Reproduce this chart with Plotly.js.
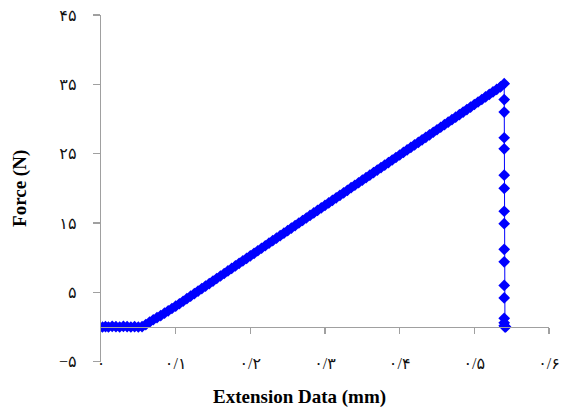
<!DOCTYPE html>
<html>
<head>
<meta charset="utf-8">
<script src="https://cdn.plot.ly/plotly-3.0.1.min.js"></script>
<style>html,body{margin:0;padding:0;background:#fff;}#chart{width:567px;height:410px;}</style>
</head>
<body>
<div id="chart"></div>
<script>
// Extension (mm)
const extension = [
  0.002, 0.006, 0.010, 0.015, 0.020, 0.025, 0.030, 0.035, 0.040, 0.045, 0.050, 0.055,
  0.060, 0.065, 0.070, 0.075, 0.080, 0.085, 0.090, 0.095,
  0.100, 0.105, 0.110, 0.115, 0.120, 0.125, 0.130, 0.135, 0.140, 0.145,
  0.150, 0.155, 0.160, 0.165, 0.170, 0.175, 0.180, 0.185, 0.190, 0.195,
  0.200, 0.205, 0.210, 0.215, 0.220, 0.225, 0.230, 0.235, 0.240, 0.245,
  0.250, 0.255, 0.260, 0.265, 0.270, 0.275, 0.280, 0.285, 0.290, 0.295,
  0.300, 0.305, 0.310, 0.315, 0.320, 0.325, 0.330, 0.335, 0.340, 0.345,
  0.350, 0.355, 0.360, 0.365, 0.370, 0.375, 0.380, 0.385, 0.390, 0.395,
  0.400, 0.405, 0.410, 0.415, 0.420, 0.425, 0.430, 0.435, 0.440, 0.445,
  0.450, 0.455, 0.460, 0.465, 0.470, 0.475, 0.480, 0.485, 0.490, 0.495,
  0.500, 0.505, 0.510, 0.515, 0.520, 0.525, 0.530, 0.535, 0.540,
  0.540, 0.540, 0.540, 0.540, 0.540, 0.540, 0.540, 0.540, 0.540, 0.540,
  0.540, 0.540, 0.540, 0.540, 0.540, 0.541, 0.541, 0.542
];
// Force (N)
const force = [
  0.00, 0.05, 0.00, 0.10, 0.05, 0.00, 0.10, 0.05, 0.00, 0.05, 0.00, 0.05,
  0.35, 0.70, 1.05, 1.35, 1.65, 2.00, 2.33, 2.67,
  3.00, 3.36, 3.72, 4.09, 4.45, 4.81, 5.18, 5.54, 5.90, 6.27,
  6.63, 7.00, 7.36, 7.72, 8.09, 8.45, 8.81, 9.18, 9.54, 9.90,
  10.27, 10.63, 11.00, 11.36, 11.72, 12.09, 12.45, 12.81, 13.18, 13.54,
  13.90, 14.27, 14.63, 15.00, 15.36, 15.72, 16.09, 16.45, 16.81, 17.18,
  17.54, 17.90, 18.27, 18.63, 19.00, 19.36, 19.72, 20.09, 20.45, 20.81,
  21.18, 21.54, 21.90, 22.27, 22.63, 23.00, 23.36, 23.72, 24.09, 24.45,
  24.81, 25.18, 25.54, 25.90, 26.27, 26.63, 27.00, 27.36, 27.72, 28.09,
  28.45, 28.81, 29.18, 29.54, 29.90, 30.27, 30.63, 31.00, 31.36, 31.72,
  32.09, 32.45, 32.81, 33.18, 33.54, 33.90, 34.27, 34.63, 35.10,
  32.80, 31.00, 27.30, 25.70, 21.90, 20.00, 16.70, 14.90, 11.20, 9.40,
  6.00, 4.20, 1.25, 0.60, 0.20, 0.10, 0.00, 0.00
];

const xTickVals = [0, 0.1, 0.2, 0.3, 0.4, 0.5, 0.6];
const xTickText = ["۰", "۰/۱", "۰/۲", "۰/۳", "۰/۴", "۰/۵", "۰/۶"];
const yTickVals = [-5, 5, 15, 25, 35, 45];
const yTickText = ["\u2212۵", "۵", "۱۵", "۲۵", "۳۵", "۴۵"];

const serif = "'Times New Roman', 'Liberation Serif', 'DejaVu Sans', serif";
const axisGray = "#a0a0a0";

const traces = [
  {
    x: extension, y: force, type: "scatter", mode: "lines+markers",
    line: {color: "#0000ff", width: 1},
    marker: {symbol: "diamond", size: 9, color: "#0000ff", line: {width: 0}},
    showlegend: false, hoverinfo: "x+y"
  },
  {
    x: [], y: [], xaxis: "x2", yaxis: "y", type: "scatter", mode: "markers",
    showlegend: false, hoverinfo: "skip"
  }
];

const layout = {
  width: 567, height: 410,
  margin: {l: 101, r: 18, t: 15, b: 40, pad: 0},
  paper_bgcolor: "#ffffff", plot_bgcolor: "#ffffff",
  font: {family: serif, size: 16, color: "#000000"},
  showlegend: false,
  xaxis: {
    range: [0, 0.6], anchor: "free", position: 0.05,
    showline: false, showgrid: false, zeroline: false,
    ticks: "", tickmode: "array", tickvals: xTickVals, ticktext: xTickText,
    tickfont: {family: serif, size: 16, color: "#111111"}
  },
  xaxis2: {
    range: [0, 0.6], overlaying: "x", anchor: "free", position: 0.1211,
    showline: true, linecolor: axisGray, linewidth: 1.3,
    ticks: "outside", ticklen: 6, tickwidth: 1.3, tickcolor: axisGray,
    tickmode: "array", tickvals: [0.1, 0.2, 0.3, 0.4, 0.5, 0.6],
    showticklabels: false, showgrid: false, zeroline: false
  },
  yaxis: {
    range: [-5, 45], domain: [0.0234, 1], anchor: "x",
    showline: true, linecolor: axisGray, linewidth: 1.3,
    ticks: "outside", ticklen: 7, tickwidth: 1.3, tickcolor: axisGray,
    tickmode: "array", tickvals: yTickVals, ticktext: yTickText,
    ticklabelstandoff: 13,
    tickfont: {family: serif, size: 16, color: "#111111"},
    showgrid: false, zeroline: false,
    title: {text: "<b>Force (N)</b>", font: {family: serif, size: 19, color: "#000000"}, standoff: 27}
  },
  annotations: [
    {
      text: "<b>Extension Data (mm)</b>", xref: "paper", yref: "paper",
      x: 0.444, y: -0.076, xanchor: "center", yanchor: "middle", showarrow: false,
      font: {family: serif, size: 19, color: "#000000"}
    }
  ]
};

Plotly.newPlot("chart", traces, layout, {displayModeBar: false, staticPlot: true});
</script>
</body>
</html>
